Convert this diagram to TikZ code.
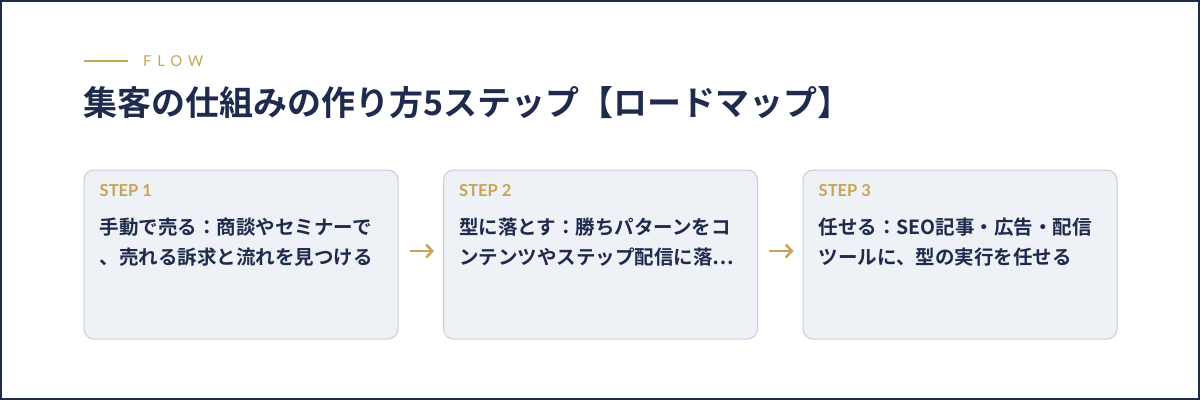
\documentclass[tikz,border=0pt]{standalone}
\usepackage{fontspec}
\usepackage{xcolor}
\usepackage{tikz}
\usetikzlibrary{arrows.meta,positioning}
\newfontfamily\jpfont{Noto Sans CJK JP}
\newfontfamily\jpbold{Noto Sans CJK JP Bold}
\newfontfamily\labelfont{Lato}
\definecolor{navy}{HTML}{1F2B4D}
\definecolor{gold}{HTML}{C8A456}
\definecolor{boxfill}{HTML}{EEF1F6}
\definecolor{boxline}{HTML}{C9CDD8}

\begin{document}
\begin{tikzpicture}[
    x=1pt,y=-1pt,
    node distance=44.5pt,
    stepbox/.style={
        % The shape:
        rectangle,
        rounded corners=10pt,
        minimum width=314pt,
        minimum height=169pt,
        inner sep=0pt,
        % The fill
        line width=1pt,
        draw=boxline,
        fill=boxfill},
    steplabel/.style={
        anchor=base west,
        inner sep=0pt,
        text=gold,
        font=\labelfont\bfseries\fontsize{16.5}{18}\selectfont},
    steptext/.style={
        anchor=north west,
        inner sep=0pt,
        align=left,
        text=navy,
        font=\jpbold\fontsize{19.5}{30}\selectfont},
    flow arrow/.style={
        draw=gold,
        line width=2.6pt,
        -{Straight Barb[length=6pt,width=13pt,line width=2.6pt]}}
  ]
  \useasboundingbox (0,0) rectangle (1200,400);
  \draw [navy, line width=2pt] (1,1) rectangle (1199,399);%外枠
  % heading
  \coordinate (rule start) at (84,61);
  \coordinate (rule end) at (128,61);
  \draw [gold, line width=2pt] (rule start) -- (rule end);
  \node (flow) [anchor=west, inner sep=0pt, text=gold,
    font=\labelfont\fontsize{15}{18}\selectfont\addfontfeature{LetterSpace=38}]
    at (143,61) {FLOW};
  \node (title) [anchor=west, inner sep=0pt, text=navy,
    font=\jpbold\fontsize{34}{40}\selectfont] at (83,103)
    {集客の仕組みの作り方5ステップ【ロードマップ】};
  % steps
  \node (step one) [stepbox] at (241,254.5) {};
  \node (step two) [stepbox,right=of step one] {};
  \node (step three) [stepbox,right=of step two] {};
  \node (label one) [steplabel] at ([shift={(16,27)}]step one.north west) {STEP 1};
  \node (label two) [steplabel] at ([shift={(16,27)}]step two.north west) {STEP 2};
  \node (label three) [steplabel] at ([shift={(16,27)}]step three.north west) {STEP 3};
  \node (text one) [steptext] at ([shift={(16,48)}]step one.north west)
    {手動で売る：商談やセミナーで\\、売れる訴求と流れを見つける};
  \node (text two) [steptext] at ([shift={(16,48)}]step two.north west)
    {型に落とす：勝ちパターンをコ\\ンテンツやステップ配信に落…};
  \node (text three) [steptext] at ([shift={(16,48)}]step three.north west)
    {任せる：SEO記事・広告・配信\\ツールに、型の実行を任せる};
  \draw [flow arrow, shorten <=11pt, shorten >=9pt]
    ([yshift=3.5pt]step one.east) -- ([yshift=3.5pt]step two.west);
  \draw [flow arrow, shorten <=11pt, shorten >=9pt]
    ([yshift=3.5pt]step two.east) -- ([yshift=3.5pt]step three.west);
\end{tikzpicture}
\end{document}
